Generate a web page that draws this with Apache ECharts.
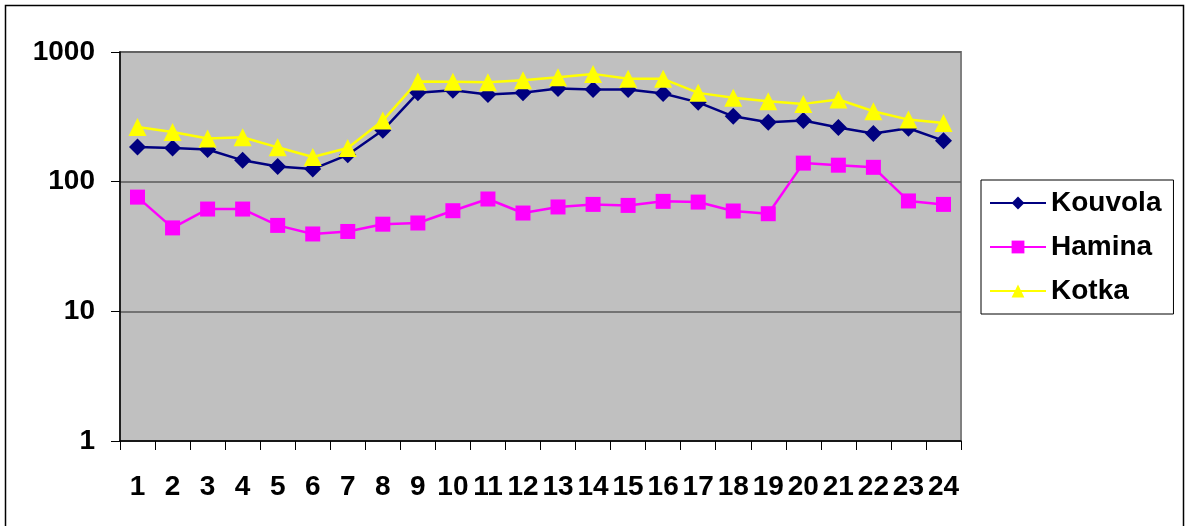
<!DOCTYPE html>
<html>
<head>
<meta charset="utf-8">
<script src="https://cdn.jsdelivr.net/npm/echarts@6/dist/echarts.min.js"></script>
<style>
  html, body { margin: 0; padding: 0; background: #fff; }
  #chart { width: 1185px; height: 526px; }
</style>
</head>
<body>
<div id="chart"></div>
<script>
// hour / category labels along the bottom
var categories = ['1','2','3','4','5','6','7','8','9','10','11','12',
                  '13','14','15','16','17','18','19','20','21','22','23','24'];

// values (log scale)
var kouvola = [185, 182, 177, 146, 131, 125, 161, 249, 484, 507, 470, 484,
               522, 513, 513, 479, 409, 319, 287, 296, 262, 235, 258, 207];
var hamina  = [76, 44, 61.5, 61.5, 46, 39.5, 41.3, 47, 48, 59.7, 73.5, 57.3,
               63.8, 66.8, 65.6, 70.5, 69.6, 59.4, 56.6, 139, 134, 129, 71, 66.8];
var kotka   = [264, 242, 215, 220, 184, 155, 182, 296, 593, 589, 585, 605,
               638, 678, 621, 621, 484, 443, 417, 398, 430, 349, 301, 284];

var yMin = 1, yMax = 1000;

var font = '"Liberation Sans", Arial, sans-serif';

var myChart = echarts.init(document.getElementById('chart'));

myChart.setOption({
  animation: false,
  backgroundColor: '#fff',
  textStyle: { fontFamily: font },
  graphic: [{
    type: 'rect',
    shape: { x: 5.5, y: 5.5, width: 1178, height: 540 },
    style: { fill: 'none', stroke: '#000', lineWidth: 1.5 },
    silent: true
  }],
  grid: {
    left: 120, top: 52, right: 224, bottom: 85,
    show: true,
    backgroundColor: '#C0C0C0',
    borderColor: '#808080',
    borderWidth: 2
  },
  legend: {
    orient: 'vertical',
    left: 981, top: 180,
    padding: [9, 12, 9, 8],
    itemWidth: 56, itemHeight: 16,
    itemGap: 16,
    itemTextGap: 8,
    borderColor: '#000', borderWidth: 1,
    backgroundColor: '#fff',
    textStyle: { fontFamily: font, fontSize: 28, fontWeight: 'bold', color: '#000' },
    data: ['Kouvola', 'Hamina', 'Kotka']
  },
  xAxis: {
    type: 'category',
    data: categories,
    boundaryGap: true,
    axisLine: { lineStyle: { color: '#000', width: 1.5 } },
    axisTick: { show: true, interval: 0, length: 9, lineStyle: { color: '#000' } },
    axisLabel: {
      interval: 0, margin: 32,
      fontFamily: font, fontSize: 28, fontWeight: 'bold', color: '#000'
    },
    splitLine: { show: false }
  },
  yAxis: {
    type: 'log',
    logBase: 10,
    min: yMin, max: yMax,
    axisLine: { show: true, lineStyle: { color: '#000', width: 1.5 } },
    axisTick: { show: true, length: 9, lineStyle: { color: '#000' } },
    axisLabel: {
      margin: 25,
      formatter: function (v) { return String(v); },
      fontFamily: font, fontSize: 28, fontWeight: 'bold', color: '#000'
    },
    splitLine: { show: true, lineStyle: { color: '#5a5a5a', width: 1.5 } }
  },
  series: [
    {
      name: 'Kouvola', type: 'line', data: kouvola,
      symbol: 'diamond', symbolSize: 17,
      lineStyle: { color: '#000080', width: 2.5 },
      itemStyle: { color: '#000080' }
    },
    {
      name: 'Hamina', type: 'line', data: hamina,
      symbol: 'rect', symbolSize: 15,
      lineStyle: { color: '#FF00FF', width: 2.5 },
      itemStyle: { color: '#FF00FF' }
    },
    {
      name: 'Kotka', type: 'line', data: kotka,
      symbol: 'triangle', symbolSize: 18,
      lineStyle: { color: '#FFFF00', width: 2.5 },
      itemStyle: { color: '#FFFF00' }
    }
  ]
});
</script>
</body>
</html>
